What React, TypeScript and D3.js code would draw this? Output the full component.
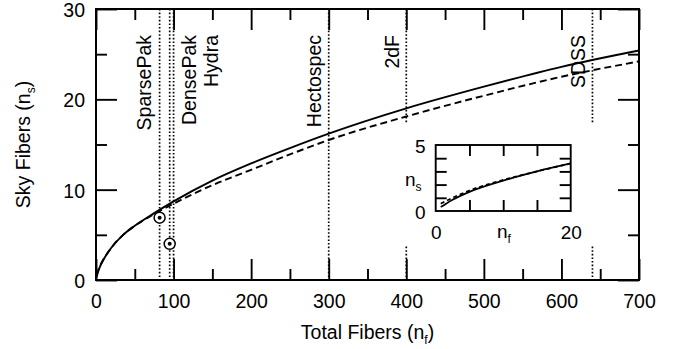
import React, { useEffect, useRef } from "react";
import * as d3 from "d3";

// curve data
const totalFibers = [0.75, 1, 2.5, 5, 10, 15, 20, 35, 50, 75, 100, 150, 200, 250, 300, 400, 500, 600, 700];
const skySolid = [0.3, 0.38, 0.85, 1.45, 2.3, 3.0, 3.6, 5.0, 6.0, 7.4, 8.7, 11.0, 12.9, 14.6, 16.2, 19.0, 21.4, 23.6, 25.4];
const skyDashed = [0.55, 0.62, 1.0, 1.55, 2.35, 3.0, 3.6, 5.0, 6.0, 7.3, 8.45, 10.5, 12.2, 13.9, 15.5, 18.1, 20.4, 22.5, 24.2];

// instruments
const instruments = ["SparsePak", "DensePak", "Hydra", "Hectospec", "2dF", "SDSS"];
const instrumentFibers = [82, 95, 100, 300, 400, 640];
// measured points (circled)
const pointFibers = [82, 95];
const pointSky = [6.9, 4.0];

// ticks
const xMajor = [0, 100, 200, 300, 400, 500, 600, 700];
const xMinor = [50, 150, 250, 350, 450, 550, 650];
const yMajor = [0, 10, 20, 30];
const yMinor = [5, 15, 25];
const insetXTicks = [5, 10, 15];
const insetYTicks = [1, 2, 3, 4];

// layout for instrument labels (offset of text baseline from its line)
const labelOffsets = [-9, 26, 44, -8, -7, -7.5];

const W = 683;
const H = 349;
const FONT = "'Liberation Sans', Arial, Helvetica, sans-serif";
const FS = 19.5;

export default function App() {
  const svgRef = useRef<SVGSVGElement>(null);

  useEffect(() => {
    const svg = d3.select(svgRef.current);
    svg.selectAll("*").remove();

    const m = { left: 96, right: 639, top: 9, bottom: 280 };
    const x = d3.scaleLinear().domain([0, 700]).range([m.left, m.right]);
    const y = d3.scaleLinear().domain([0, 30]).range([m.bottom, m.top]);

    const solid = totalFibers.map((f, i) => ({ f, s: skySolid[i] }));
    const dashed = totalFibers.map((f, i) => ({ f, s: skyDashed[i] }));

    // vertical instrument lines
    instruments.forEach((name, i) => {
      const xp = x(instrumentFibers[i]);
      svg
        .append("line")
        .attr("x1", xp)
        .attr("x2", xp)
        .attr("y1", m.top)
        .attr("y2", m.bottom)
        .attr("stroke", "#000")
        .attr("stroke-width", 1.7)
        .attr("stroke-dasharray", "1.6,2");
    });

    // curves
    const line = d3
      .line<{ f: number; s: number }>()
      .x((d) => x(d.f))
      .y((d) => y(d.s))
      .curve(d3.curveMonotoneX);

    svg
      .append("path")
      .datum(solid)
      .attr("fill", "none")
      .attr("stroke", "#000")
      .attr("stroke-width", 1.9)
      .attr("d", line);

    svg
      .append("path")
      .datum(dashed)
      .attr("fill", "none")
      .attr("stroke", "#000")
      .attr("stroke-width", 1.9)
      .attr("stroke-dasharray", "7,4")
      .attr("d", line);

    // instrument labels
    instruments.forEach((name, i) => {
      const xp = x(instrumentFibers[i]) + labelOffsets[i];
      svg
        .append("text")
        .attr("transform", `translate(${xp},35) rotate(-90)`)
        .attr("text-anchor", "end")
        .style("font-family", FONT)
        .style("font-size", `${FS}px`)
        .text(name);
    });

    // circled points
    pointFibers.forEach((f, i) => {
      svg
        .append("circle")
        .attr("cx", x(f))
        .attr("cy", y(pointSky[i]))
        .attr("r", 5.5)
        .attr("fill", "#fff")
        .attr("stroke", "#000")
        .attr("stroke-width", 1.5);
      svg
        .append("circle")
        .attr("cx", x(f))
        .attr("cy", y(pointSky[i]))
        .attr("r", 2)
        .attr("fill", "#000");
    });

    // inset background (masks the instrument lines)
    svg
      .append("rect")
      .attr("x", 398)
      .attr("y", 123)
      .attr("width", 207)
      .attr("height", 123)
      .attr("fill", "#fff");

    // main axes ticks (inward on all four sides)
    const styleAxis = (g: any) => {
      g.select(".domain").remove();
      g.selectAll("line").attr("stroke", "#000").attr("stroke-width", 1.9);
      g.selectAll("text")
        .style("font-family", FONT)
        .style("font-size", `${FS}px`)
        .attr("fill", "#000");
    };

    svg
      .append("g")
      .attr("transform", `translate(0,${m.bottom})`)
      .call(d3.axisBottom(x).tickValues(xMajor).tickSize(-21).tickPadding(14).tickFormat(d3.format("d")))
      .call(styleAxis);
    svg
      .append("g")
      .attr("transform", `translate(0,${m.bottom})`)
      .call(d3.axisBottom(x).tickValues(xMinor).tickSize(-11).tickFormat(() => ""))
      .call(styleAxis);
    svg
      .append("g")
      .attr("transform", `translate(0,${m.top})`)
      .call(d3.axisTop(x).tickValues(xMajor).tickSize(-21).tickFormat(() => ""))
      .call(styleAxis);
    svg
      .append("g")
      .attr("transform", `translate(0,${m.top})`)
      .call(d3.axisTop(x).tickValues(xMinor).tickSize(-11).tickFormat(() => ""))
      .call(styleAxis);

    const yAxis = svg
      .append("g")
      .attr("transform", `translate(${m.left},0)`)
      .call(d3.axisLeft(y).tickValues(yMajor).tickSize(-21).tickPadding(11).tickFormat(d3.format("d")))
      .call(styleAxis);
    yAxis.selectAll("text").attr("dy", "0.38em");
    svg
      .append("g")
      .attr("transform", `translate(${m.left},0)`)
      .call(d3.axisLeft(y).tickValues(yMinor).tickSize(-11).tickFormat(() => ""))
      .call(styleAxis);
    svg
      .append("g")
      .attr("transform", `translate(${m.right},0)`)
      .call(d3.axisRight(y).tickValues(yMajor).tickSize(-21).tickFormat(() => ""))
      .call(styleAxis);
    svg
      .append("g")
      .attr("transform", `translate(${m.right},0)`)
      .call(d3.axisRight(y).tickValues(yMinor).tickSize(-11).tickFormat(() => ""))
      .call(styleAxis);

    svg
      .append("rect")
      .attr("x", m.left)
      .attr("y", m.top)
      .attr("width", m.right - m.left)
      .attr("height", m.bottom - m.top)
      .attr("fill", "none")
      .attr("stroke", "#000")
      .attr("stroke-width", 2);

    // axis titles
    const xt = svg
      .append("text")
      .attr("x", (m.left + m.right) / 2)
      .attr("y", 339)
      .attr("text-anchor", "middle")
      .style("font-family", FONT)
      .style("font-size", `${FS}px`);
    xt.append("tspan").text("Total Fibers (n");
    xt.append("tspan").attr("dy", 5).style("font-size", "12px").text("f");
    xt.append("tspan").attr("dy", -5).text(")");

    const yt = svg
      .append("text")
      .attr("transform", `translate(30,${(m.top + m.bottom) / 2}) rotate(-90)`)
      .attr("text-anchor", "middle")
      .style("font-family", FONT)
      .style("font-size", `${FS}px`);
    yt.append("tspan").text("Sky Fibers (n");
    yt.append("tspan").attr("dy", 5).style("font-size", "12px").text("s");
    yt.append("tspan").attr("dy", -5).text(")");

    // inset
    const ix = d3.scaleLinear().domain([0, 20]).range([435.7, 570.7]);
    const iy = d3.scaleLinear().domain([0, 5]).range([211, 145]);
    const iline = d3
      .line<{ f: number; s: number }>()
      .x((d) => ix(d.f))
      .y((d) => iy(d.s))
      .curve(d3.curveMonotoneX);

    svg
      .append("path")
      .datum(solid.filter((d) => d.f <= 20))
      .attr("fill", "none")
      .attr("stroke", "#000")
      .attr("stroke-width", 1.8)
      .attr("d", iline);
    svg
      .append("path")
      .datum(dashed.filter((d) => d.f <= 20))
      .attr("fill", "none")
      .attr("stroke", "#000")
      .attr("stroke-width", 1.8)
      .attr("stroke-dasharray", "4,3")
      .attr("d", iline);

    const styleInset = (g: any) => {
      g.select(".domain").remove();
      g.selectAll("line").attr("stroke", "#000").attr("stroke-width", 1.9);
      g.selectAll("text")
        .style("font-family", FONT)
        .style("font-size", "19px")
        .attr("fill", "#000");
    };

    svg
      .append("g")
      .attr("transform", "translate(0,211)")
      .call(d3.axisBottom(ix).tickValues(insetXTicks).tickSize(-11).tickFormat(() => ""))
      .call(styleInset);
    svg
      .append("g")
      .attr("transform", "translate(0,145)")
      .call(d3.axisTop(ix).tickValues(insetXTicks).tickSize(-11).tickFormat(() => ""))
      .call(styleInset);
    svg
      .append("g")
      .attr("transform", "translate(435.7,0)")
      .call(d3.axisLeft(iy).tickValues(insetYTicks).tickSize(-11).tickFormat(() => ""))
      .call(styleInset);
    svg
      .append("g")
      .attr("transform", "translate(570.7,0)")
      .call(d3.axisRight(iy).tickValues(insetYTicks).tickSize(-11).tickFormat(() => ""))
      .call(styleInset);
    // inset labels
    svg
      .append("g")
      .attr("transform", "translate(0,211)")
      .call(d3.axisBottom(ix).tickValues([0, 20]).tickSize(0).tickPadding(15).tickFormat(d3.format("d")))
      .call(styleInset);
    const iyLab = svg
      .append("g")
      .attr("transform", "translate(435.7,0)")
      .call(d3.axisLeft(iy).tickValues([0, 5]).tickSize(0).tickPadding(10).tickFormat(d3.format("d")))
      .call(styleInset);
    iyLab.selectAll("text").attr("dy", "0.4em");

    svg
      .append("rect")
      .attr("x", 435.7)
      .attr("y", 145)
      .attr("width", 135)
      .attr("height", 66)
      .attr("fill", "none")
      .attr("stroke", "#000")
      .attr("stroke-width", 1.9);

    const ns = svg
      .append("text")
      .attr("x", 405)
      .attr("y", 186)
      .style("font-family", FONT)
      .style("font-size", "19px");
    ns.append("tspan").text("n");
    ns.append("tspan").attr("dy", 5).style("font-size", "12px").text("s");

    const nf = svg
      .append("text")
      .attr("x", 497)
      .attr("y", 238)
      .style("font-family", FONT)
      .style("font-size", "19px");
    nf.append("tspan").text("n");
    nf.append("tspan").attr("dy", 5).style("font-size", "12px").text("f");
  }, []);

  return (
    <svg
      ref={svgRef}
      width={W}
      height={H}
      style={{ position: "absolute", left: 0, top: 0, background: "#fff" }}
    ></svg>
  );
}
